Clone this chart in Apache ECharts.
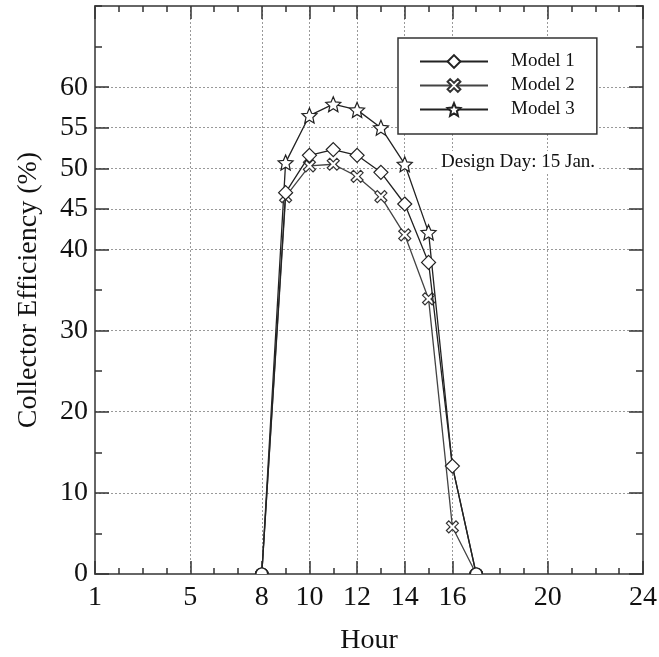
<!DOCTYPE html>
<html>
<head>
<meta charset="utf-8">
<script src="https://cdn.jsdelivr.net/npm/echarts@6/dist/echarts.min.js"></script>
<style>
  html, body { margin: 0; padding: 0; background: #fff; }
  #chart { width: 659px; height: 657px; }
</style>
</head>
<body>
<div id="chart"></div>
<script>
// data
var hours = [8, 9, 10, 11, 12, 13, 14, 15, 16, 17];
var model1 = [0, 47.0, 51.6, 52.3, 51.6, 49.5, 45.6, 38.4, 13.3, 0];
var model2 = [0, 46.5, 50.3, 50.5, 49.0, 46.5, 41.8, 33.9, 5.8, 0];
var model3 = [0, 50.7, 56.5, 57.9, 57.2, 55.0, 50.5, 42.1, 13.3, 0];
var hiddenStar = [16]; // star sits under the diamond, not visible

var xLabels = [1, 5, 8, 10, 12, 14, 16, 20, 24];
var yLabels = [0, 10, 20, 30, 40, 45, 50, 55, 60];

var serif = '"Liberation Serif", "DejaVu Serif", serif';
var frame = '#666';
var tickCol = '#333';

var halfCircle = 'path://M0,10 C0,4.48 4.48,0 10,0 C15.52,0 20,4.48 20,10';
var diamond = 'path://M5,0 L10,5 L5,10 L0,5 Z';
var cross = 'path://M2,0 L5,3 L8,0 L10,2 L7,5 L10,8 L8,10 L5,7 L2,10 L0,8 L3,5 L0,2 Z';
var star = 'path://M12,2 L14.9,8.6 L22,9.3 L16.6,14 L18.2,21 L12,17.3 L5.8,21 L7.4,14 L2,9.3 L9.1,8.6 Z';

function buildData(vals, hide) {
  var out = [];
  for (var i = 0; i < hours.length; i++) {
    var item = { value: [hours[i], vals[i]] };
    if (vals[i] === 0) {
      item.symbol = halfCircle;
      item.symbolSize = [12, 6];
      item.symbolOffset = [0, -3];
    } else if (hide && hide.indexOf(hours[i]) >= 0) {
      item.symbol = 'none';
    }
    out.push(item);
  }
  return out;
}

function minorX(pos) {
  return {
    type: 'value', position: pos, min: 1, max: 24, interval: 1,
    axisLine: { show: true, onZero: false, lineStyle: { color: frame, width: 2 } },
    axisTick: { show: true, inside: true, length: 6, lineStyle: { color: tickCol, width: 1.5 } },
    axisLabel: { show: false },
    splitLine: { show: false }
  };
}
function majorX(pos, withLabels) {
  return {
    type: 'value', position: pos, min: 1, max: 24,
    axisLine: { show: false, onZero: false },
    axisTick: { show: true, inside: true, length: 13, customValues: xLabels, lineStyle: { color: tickCol, width: 1.5 } },
    axisLabel: { show: withLabels, customValues: xLabels, fontFamily: serif, fontSize: 28, color: '#111', margin: 10 },
    splitLine: { show: withLabels, lineStyle: { color: '#999', type: [2, 2], width: 1 } },
    name: withLabels ? 'Hour' : '',
    nameLocation: 'middle',
    nameGap: 53,
    nameTextStyle: { fontFamily: serif, fontSize: 28, color: '#111' }
  };
}
function minorY(pos) {
  return {
    type: 'value', position: pos, min: 0, max: 70, interval: 5,
    axisLine: { show: true, onZero: false, lineStyle: { color: frame, width: 2 } },
    axisTick: { show: true, inside: true, length: 7, lineStyle: { color: tickCol, width: 1.5 } },
    axisLabel: { show: false },
    splitLine: { show: false }
  };
}
function majorY(pos, withLabels) {
  return {
    type: 'value', position: pos, min: 0, max: 70,
    axisLine: { show: false, onZero: false },
    axisTick: { show: true, inside: true, length: 14, customValues: yLabels, lineStyle: { color: tickCol, width: 1.5 } },
    axisLabel: { show: withLabels, customValues: yLabels, fontFamily: serif, fontSize: 28, color: '#111', margin: 7 },
    splitLine: { show: withLabels, lineStyle: { color: '#999', type: [2, 2], width: 1 } },
    name: withLabels ? 'Collector Efficiency (%)' : '',
    nameLocation: 'middle',
    nameGap: 52,
    nameTextStyle: { fontFamily: serif, fontSize: 28, color: '#111' }
  };
}

var chart = echarts.init(document.getElementById('chart'), null, { renderer: 'canvas' });

var option = {
  backgroundColor: '#fff',
  animation: false,
  grid: { left: 95, right: 16, top: 6, bottom: 83, containLabel: false, outerBoundsMode: 'none' },
  title: {
    text: 'Design Day: 15 Jan.',
    left: 437, top: 151,
    padding: [2, 4, 2, 4],
    backgroundColor: '#fff',
    textStyle: { fontFamily: serif, fontSize: 19, fontWeight: 'normal', color: '#111' }
  },
  legend: {
    orient: 'vertical',
    left: 398, top: 38,
    padding: [14, 22, 15, 21],
    itemWidth: 68, itemHeight: 16, itemGap: 5,
    backgroundColor: '#fff',
    borderColor: '#333', borderWidth: 1.5,
    textStyle: { fontFamily: serif, fontSize: 19, color: '#111', lineHeight: 16, padding: [0, 0, 0, 18] },
    data: ['Model 1', 'Model 2', 'Model 3']
  },
  xAxis: [majorX('bottom', true), minorX('bottom'), minorX('top'), majorX('top', false)],
  yAxis: [majorY('left', true), minorY('left'), minorY('right'), majorY('right', false)],
  series: [
    {
      name: 'Model 1', type: 'line', z: 5,
      xAxisIndex: 0, yAxisIndex: 0,
      symbol: diamond, symbolSize: 14,
      lineStyle: { color: '#222', width: 1.3 },
      itemStyle: { color: '#fff', borderColor: '#222', borderWidth: 1.2 },
      data: buildData(model1)
    },
    {
      name: 'Model 2', type: 'line', z: 4,
      xAxisIndex: 0, yAxisIndex: 0,
      symbol: cross, symbolSize: 12,
      lineStyle: { color: '#444', width: 1.3 },
      itemStyle: { color: '#fff', borderColor: '#333', borderWidth: 1.2 },
      data: buildData(model2)
    },
    {
      name: 'Model 3', type: 'line', z: 3,
      xAxisIndex: 0, yAxisIndex: 0,
      symbol: star, symbolSize: 15,
      lineStyle: { color: '#222', width: 1.3 },
      itemStyle: { color: '#fff', borderColor: '#222', borderWidth: 1.2 },
      data: buildData(model3, hiddenStar)
    }
  ]
};

chart.setOption(option);
</script>
</body>
</html>
